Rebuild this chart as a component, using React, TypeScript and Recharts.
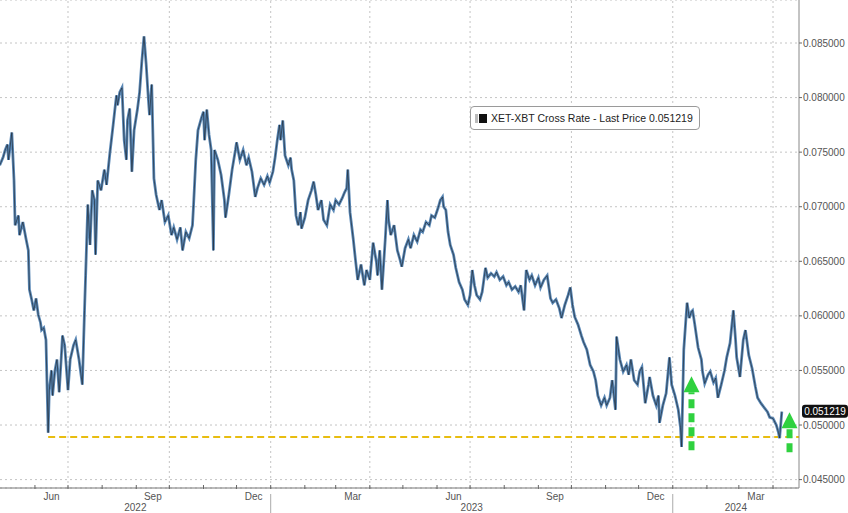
import React from "react";
import { LineChart, Line, XAxis, YAxis, CartesianGrid, ReferenceLine, ReferenceDot, Legend } from "recharts";

// XET-XBT cross rate
const dates = [
  "2022-04-30", "2022-05-03", "2022-05-05", "2022-05-07", "2022-05-08", "2022-05-11", "2022-05-13", "2022-05-14",
  "2022-05-17", "2022-05-18", "2022-05-21", "2022-05-24", "2022-05-26", "2022-05-27", "2022-05-29", "2022-05-31",
  "2022-06-02", "2022-06-04", "2022-06-06", "2022-06-07", "2022-06-09", "2022-06-11", "2022-06-13", "2022-06-14",
  "2022-06-16", "2022-06-17", "2022-06-19", "2022-06-21", "2022-06-23", "2022-06-25", "2022-06-26", "2022-06-28",
  "2022-07-01", "2022-07-03", "2022-07-06", "2022-07-08", "2022-07-11", "2022-07-14", "2022-07-16", "2022-07-17",
  "2022-07-19", "2022-07-21", "2022-07-23", "2022-07-25", "2022-07-26", "2022-07-28", "2022-07-31", "2022-08-03",
  "2022-08-05", "2022-08-08", "2022-08-11", "2022-08-14", "2022-08-15", "2022-08-17", "2022-08-19", "2022-08-21",
  "2022-08-23", "2022-08-24", "2022-08-26", "2022-08-28", "2022-08-30", "2022-09-02", "2022-09-04", "2022-09-06",
  "2022-09-08", "2022-09-10", "2022-09-12", "2022-09-13", "2022-09-15", "2022-09-17", "2022-09-19", "2022-09-22",
  "2022-09-24", "2022-09-27", "2022-09-30", "2022-10-03", "2022-10-05", "2022-10-08", "2022-10-11", "2022-10-13",
  "2022-10-16", "2022-10-19", "2022-10-22", "2022-10-23", "2022-10-25", "2022-10-27", "2022-10-30", "2022-11-01",
  "2022-11-02", "2022-11-04", "2022-11-06", "2022-11-08", "2022-11-10", "2022-11-11", "2022-11-14", "2022-11-17",
  "2022-11-20", "2022-11-21", "2022-11-24", "2022-11-27", "2022-11-30", "2022-12-01", "2022-12-04", "2022-12-07",
  "2022-12-10", "2022-12-12", "2022-12-15", "2022-12-18", "2022-12-20", "2022-12-23", "2022-12-26", "2022-12-29",
  "2022-12-31", "2023-01-03", "2023-01-05", "2023-01-07", "2023-01-09", "2023-01-10", "2023-01-12", "2023-01-14",
  "2023-01-17", "2023-01-19", "2023-01-20", "2023-01-22", "2023-01-24", "2023-01-26", "2023-01-28", "2023-01-29",
  "2023-02-01", "2023-02-04", "2023-02-07", "2023-02-09", "2023-02-11", "2023-02-13", "2023-02-16", "2023-02-18",
  "2023-02-21", "2023-02-24", "2023-02-27", "2023-03-01", "2023-03-04", "2023-03-07", "2023-03-09", "2023-03-11",
  "2023-03-12", "2023-03-14", "2023-03-17", "2023-03-19", "2023-03-21", "2023-03-24", "2023-03-27", "2023-03-29",
  "2023-04-01", "2023-04-04", "2023-04-07", "2023-04-08", "2023-04-10", "2023-04-12", "2023-04-15", "2023-04-17",
  "2023-04-18", "2023-04-20", "2023-04-23", "2023-04-26", "2023-04-28", "2023-04-30", "2023-05-03", "2023-05-06",
  "2023-05-08", "2023-05-11", "2023-05-14", "2023-05-17", "2023-05-19", "2023-05-22", "2023-05-25", "2023-05-27",
  "2023-05-30", "2023-06-02", "2023-06-04", "2023-06-06", "2023-06-07", "2023-06-09", "2023-06-11", "2023-06-13",
  "2023-06-16", "2023-06-18", "2023-06-21", "2023-06-24", "2023-06-26", "2023-06-29", "2023-07-01", "2023-07-03",
  "2023-07-05", "2023-07-07", "2023-07-10", "2023-07-12", "2023-07-15", "2023-07-17", "2023-07-20", "2023-07-23",
  "2023-07-25", "2023-07-28", "2023-07-31", "2023-08-03", "2023-08-05", "2023-08-08", "2023-08-11", "2023-08-14",
  "2023-08-16", "2023-08-19", "2023-08-21", "2023-08-24", "2023-08-26", "2023-08-29", "2023-09-01", "2023-09-03",
  "2023-09-06", "2023-09-09", "2023-09-12", "2023-09-14", "2023-09-17", "2023-09-20", "2023-09-22", "2023-09-25",
  "2023-09-28", "2023-09-30", "2023-10-02", "2023-10-04", "2023-10-07", "2023-10-10", "2023-10-12", "2023-10-15",
  "2023-10-18", "2023-10-21", "2023-10-23", "2023-10-25", "2023-10-28", "2023-10-31", "2023-11-02", "2023-11-05",
  "2023-11-07", "2023-11-10", "2023-11-11", "2023-11-14", "2023-11-17", "2023-11-20", "2023-11-22", "2023-11-24",
  "2023-11-27", "2023-11-30", "2023-12-02", "2023-12-04", "2023-12-07", "2023-12-10", "2023-12-11", "2023-12-14",
  "2023-12-17", "2023-12-19", "2023-12-20", "2023-12-23", "2023-12-26", "2023-12-29", "2023-12-31", "2024-01-03",
  "2024-01-06", "2024-01-08", "2024-01-09", "2024-01-11", "2024-01-13", "2024-01-14", "2024-01-16", "2024-01-18",
  "2024-01-19", "2024-01-21", "2024-01-24", "2024-01-27", "2024-01-28", "2024-01-30", "2024-02-02", "2024-02-04",
  "2024-02-07", "2024-02-09", "2024-02-11", "2024-02-14", "2024-02-17", "2024-02-19", "2024-02-22", "2024-02-25",
  "2024-02-27", "2024-02-28", "2024-03-02", "2024-03-05", "2024-03-07", "2024-03-10", "2024-03-13", "2024-03-16",
  "2024-03-18", "2024-03-21", "2024-03-24", "2024-03-27", "2024-03-29", "2024-04-01", "2024-04-04", "2024-04-06",
  "2024-04-07", "2024-04-09",
];

const rates = [
  0.0738, 0.0745, 0.0752, 0.0757, 0.0743, 0.0768, 0.0724, 0.0683,
  0.0692, 0.0674, 0.0686, 0.0670, 0.0660, 0.0624, 0.0615, 0.0605,
  0.0616, 0.0601, 0.0594, 0.0587, 0.0589, 0.0578, 0.0493, 0.0532,
  0.0550, 0.0527, 0.0549, 0.0560, 0.0530, 0.0564, 0.0582, 0.0573,
  0.0532, 0.0560, 0.0573, 0.0578, 0.0560, 0.0537, 0.0605, 0.0637,
  0.0702, 0.0665, 0.0715, 0.0706, 0.0656, 0.0724, 0.0715, 0.0734,
  0.0720, 0.0749, 0.0775, 0.0802, 0.0793, 0.0805, 0.0809, 0.0761,
  0.0743, 0.0779, 0.0790, 0.0732, 0.0770, 0.0789, 0.0805, 0.0833,
  0.0856, 0.0830, 0.0798, 0.0784, 0.0812, 0.0726, 0.0711, 0.0697,
  0.0706, 0.0686, 0.0692, 0.0674, 0.0681, 0.0670, 0.0681, 0.0660,
  0.0677, 0.0671, 0.0683, 0.0702, 0.0743, 0.0770, 0.0781, 0.0787,
  0.0761, 0.0789, 0.0766, 0.0752, 0.0660, 0.0752, 0.0743, 0.0729,
  0.0706, 0.0690, 0.0711, 0.0734, 0.0752, 0.0759, 0.0743, 0.0752,
  0.0738, 0.0745, 0.0732, 0.0709, 0.0717, 0.0726, 0.0720, 0.0728,
  0.0722, 0.0732, 0.0745, 0.0761, 0.0775, 0.0761, 0.0779, 0.0747,
  0.0738, 0.0745, 0.0734, 0.0724, 0.0692, 0.0683, 0.0695, 0.0680,
  0.0690, 0.0706, 0.0715, 0.0723, 0.0711, 0.0697, 0.0706, 0.0688,
  0.0683, 0.0702, 0.0697, 0.0706, 0.0702, 0.0708, 0.0713, 0.0717,
  0.0734, 0.0695, 0.0670, 0.0651, 0.0633, 0.0647, 0.0628, 0.0642,
  0.0633, 0.0667, 0.0649, 0.0637, 0.0660, 0.0624, 0.0670, 0.0706,
  0.0688, 0.0674, 0.0683, 0.0660, 0.0653, 0.0645, 0.0662, 0.0670,
  0.0662, 0.0674, 0.0668, 0.0679, 0.0677, 0.0686, 0.0683, 0.0692,
  0.0690, 0.0699, 0.0706, 0.0709, 0.0700, 0.0697, 0.0677, 0.0665,
  0.0656, 0.0644, 0.0631, 0.0624, 0.0615, 0.0610, 0.0619, 0.0642,
  0.0628, 0.0619, 0.0615, 0.0622, 0.0644, 0.0635, 0.0639, 0.0636,
  0.0640, 0.0633, 0.0636, 0.0628, 0.0631, 0.0624, 0.0627, 0.0622,
  0.0628, 0.0605, 0.0642, 0.0633, 0.0637, 0.0628, 0.0635, 0.0626,
  0.0633, 0.0637, 0.0616, 0.0612, 0.0615, 0.0607, 0.0598, 0.0610,
  0.0619, 0.0626, 0.0610, 0.0599, 0.0592, 0.0582, 0.0576, 0.0569,
  0.0555, 0.0549, 0.0541, 0.0527, 0.0518, 0.0525, 0.0518, 0.0525,
  0.0541, 0.0514, 0.0581, 0.0560, 0.0549, 0.0555, 0.0546, 0.0560,
  0.0541, 0.0537, 0.0549, 0.0553, 0.0520, 0.0537, 0.0544, 0.0527,
  0.0518, 0.0527, 0.0502, 0.0518, 0.0529, 0.0562, 0.0537, 0.0527,
  0.0514, 0.0498, 0.0480, 0.0569, 0.0598, 0.0612, 0.0598, 0.0604,
  0.0605, 0.0592, 0.0571, 0.0560, 0.0549, 0.0538, 0.0546, 0.0549,
  0.0539, 0.0543, 0.0525, 0.0537, 0.0550, 0.0562, 0.0575, 0.0605,
  0.0578, 0.0562, 0.0544, 0.0578, 0.0587, 0.0564, 0.0552, 0.0535,
  0.0525, 0.0520, 0.0516, 0.0512, 0.0507, 0.0506, 0.0500, 0.0493,
  0.0488, 0.051219,
];

const yTicks = [0.045, 0.05, 0.055, 0.06, 0.065, 0.07, 0.075, 0.08, 0.085];

const monthStarts = [
  "2022-06-01", "2022-07-01", "2022-08-01", "2022-09-01", "2022-10-01", "2022-11-01", "2022-12-01",
  "2023-01-01", "2023-02-01", "2023-03-01", "2023-04-01", "2023-05-01", "2023-06-01", "2023-07-01",
  "2023-08-01", "2023-09-01", "2023-10-01", "2023-11-01", "2023-12-01", "2024-01-01", "2024-02-01",
  "2024-03-01", "2024-04-01",
];
const quarterStarts = [
  "2022-07-01", "2022-10-01", "2023-01-01", "2023-04-01", "2023-07-01", "2023-10-01", "2024-01-01", "2024-04-01",
];
const monthLabels = ["Jun", "Sep", "Dec", "Mar", "Jun", "Sep", "Dec", "Mar"];
const monthLabelDates = [
  "2022-06-16", "2022-09-16", "2022-12-16T12:00:00Z", "2023-03-16T12:00:00Z",
  "2023-06-16", "2023-09-16", "2023-12-16T12:00:00Z", "2024-03-16T12:00:00Z",
];
const yearLabels = ["2022", "2023", "2024"];
const yearStarts = ["2023-01-01", "2024-01-01"];

const seriesName = "XET-XBT Cross Rate - Last Price";
const lastPrice = 0.051219;
const supportLevel = 0.0489;
const supportFrom = "2022-06-13";
const arrowDates = ["2024-01-18", "2024-04-16"];
const arrowTail = [0.0477, 0.0475];
const arrowHead = [0.053, 0.0497];

const X_START = Date.parse("2022-04-30T06:30:00Z");
const X_END = Date.parse("2024-04-24T14:24:00Z");

const data = dates.map((d, i) => ({ t: Date.parse(d), rate: rates[i] }));

// year labels sit in the middle of the visible part of each year
const yearEdges = [X_START, ...yearStarts.map((d) => Date.parse(d)), X_END];
const yearTicks = yearLabels.map((_, i) => Math.round((yearEdges[i] + yearEdges[i + 1]) / 2));

const monthByTime = new Map(monthLabelDates.map((d, i) => [Date.parse(d), monthLabels[i]]));
const yearByTime = new Map(yearTicks.map((t, i) => [t, yearLabels[i]]));
const axisTicks = [...monthStarts.map((d) => Date.parse(d)), ...monthByTime.keys(), ...yearTicks].sort((a, b) => a - b);

const FONT = '"Liberation Sans", Arial, sans-serif';
const GREEN = "#2fd13f";
const GRID = "#c4c4c4";

const DateTick = (props: any) => {
  const { x, y, payload } = props;
  const month = monthByTime.get(payload.value);
  if (month) {
    return (
      <text x={x} y={y + 12} textAnchor="middle" fontSize={10} fill="#555" fontFamily={FONT}>
        {month}
      </text>
    );
  }
  const year = yearByTime.get(payload.value);
  if (year) {
    return (
      <text x={x} y={y + 23} textAnchor="middle" fontSize={10} fill="#555" fontFamily={FONT}>
        {year}
      </text>
    );
  }
  const isJan = new Date(payload.value).getUTCMonth() === 0;
  return (
    <g>
      <line x1={x} x2={x} y1={y - 3} y2={y + 1} stroke="#666" />
      {isJan && <line x1={x} x2={x} y1={y + 6} y2={y + 26} stroke="#aaa" />}
    </g>
  );
};

const LegendBox = () => (
  <div
    style={{
      display: "flex",
      alignItems: "center",
      height: 24,
      padding: "0 4px",
      border: "1px solid #9a9a9a",
      borderRadius: 4,
      background: "#fff",
      fontFamily: FONT,
      fontSize: 10.5,
      color: "#222",
      boxSizing: "border-box",
      whiteSpace: "nowrap",
    }}
  >
    <span style={{ width: 3, height: 9, background: "#bbb", marginRight: 1 }} />
    <span style={{ width: 8, height: 9, background: "#111", marginRight: 4 }} />
    {seriesName} {lastPrice.toFixed(6)}
  </div>
);

const PriceTag = (props: any) => {
  const { viewBox } = props;
  const x = viewBox.x + viewBox.width + 3;
  const y = viewBox.y;
  return (
    <g>
      <rect x={x} y={y - 7} width={46} height={13} rx={3} fill="#111" />
      <text x={x + 23} y={y + 3} textAnchor="middle" fontSize={10} fill="#fff" fontFamily={FONT}>
        {lastPrice.toFixed(6)}
      </text>
    </g>
  );
};

const ArrowHead = (props: any) => {
  const { cx, cy } = props;
  return <polygon points={`${cx - 8},${cy} ${cx + 8},${cy} ${cx},${cy - 16}`} fill={GREEN} />;
};

export default function App() {
  return (
    <div style={{ position: "absolute", left: 0, top: 0, width: 848, height: 513, background: "#fff", fontFamily: FONT }}>
      <LineChart width={848} height={513} data={data} margin={{ top: 0, right: 0, bottom: 0, left: 0 }}>
        <CartesianGrid vertical={false} stroke={GRID} strokeDasharray="2 3" />
        {quarterStarts.map((d) => (
          <ReferenceLine key={d} x={Date.parse(d)} stroke={GRID} strokeDasharray="2 3" />
        ))}
        <XAxis
          dataKey="t"
          type="number"
          scale="time"
          domain={[X_START, X_END]}
          ticks={axisTicks}
          interval={0}
          tick={<DateTick />}
          tickLine={false}
          tickSize={0}
          tickMargin={0}
          height={25}
          axisLine={{ stroke: "#777" }}
          allowDataOverflow
        />
        <YAxis
          orientation="right"
          domain={[0.04423, 0.08894]}
          ticks={yTicks}
          interval={0}
          allowDataOverflow
          width={49}
          tickFormatter={(v: number) => v.toFixed(6)}
          tick={{ fontSize: 10, fill: "#555", fontFamily: FONT }}
          tickSize={3}
          tickMargin={1}
          tickLine={{ stroke: "#666" }}
          axisLine={{ stroke: "#888" }}
        />
        <ReferenceLine
          segment={[
            { x: Date.parse(supportFrom), y: supportLevel },
            { x: X_END, y: supportLevel },
          ]}
          stroke="#e8bd10"
          strokeWidth={2}
          strokeDasharray="7 4"
        />
        <Line
          dataKey="rate"
          type="linear"
          stroke="#5a88b6"
          strokeWidth={2.8}
          dot={false}
          isAnimationActive={false}
          legendType="none"
        />
        <Line
          dataKey="rate"
          name={seriesName}
          type="linear"
          stroke="#1f2a36"
          strokeWidth={0.8}
          strokeOpacity={0.85}
          dot={false}
          isAnimationActive={false}
        />
        {arrowDates.map((d, i) => (
          <ReferenceLine
            key={"shaft" + d}
            segment={[
              { x: Date.parse(d), y: arrowTail[i] },
              { x: Date.parse(d), y: arrowHead[i] },
            ]}
            stroke={GREEN}
            strokeWidth={6}
            strokeDasharray="9 5"
          />
        ))}
        {arrowDates.map((d, i) => (
          <ReferenceDot key={"head" + d} x={Date.parse(d)} y={arrowHead[i]} r={8} shape={<ArrowHead />} />
        ))}
        <ReferenceLine y={lastPrice} stroke="none" label={<PriceTag />} />
        <Legend
          layout="horizontal"
          verticalAlign="middle"
          align="center"
          wrapperStyle={{ top: 106, left: 470, width: 230, height: 25 }}
          content={() => <LegendBox />}
        />
      </LineChart>
    </div>
  );
}
